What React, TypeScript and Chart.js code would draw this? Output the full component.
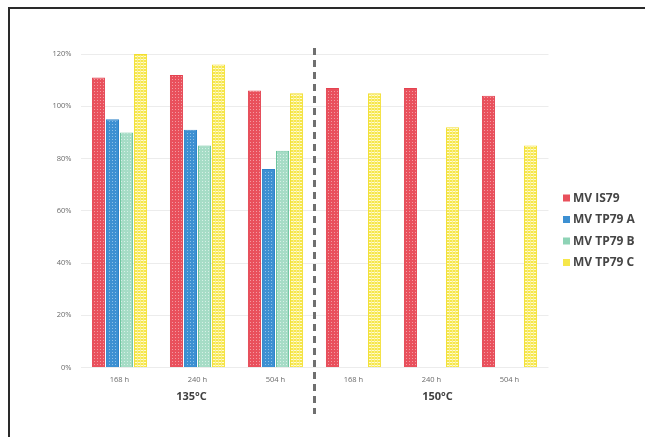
import React, { useEffect, useRef } from "react";
import { Chart, registerables } from "chart.js";

Chart.register(...registerables);

const categories = ["168 h", "240 h", "504 h", "168 h", "240 h", "504 h"];
const groupLabels = ["135°C", "150°C"];
const seriesNames = ["MV IS79", "MV TP79 A", "MV TP79 B", "MV TP79 C"];
const is79 = [111, 112, 106, 107, 107, 104];
const tp79A = [95, 91, 76, null, null, null];
const tp79B = [90, 85, 83, null, null, null];
const tp79C = [120, 116, 105, 105, 92, 85];
const yMax = 120;
const yStep = 20;

function makePattern(kind: string): CanvasPattern | string {
  const c = document.createElement("canvas");
  c.width = 3;
  c.height = 3;
  const g = c.getContext("2d");
  if (!g) return "#ccc";
  if (kind === "red") {
    g.fillStyle = "#E9505C";
    g.fillRect(0, 0, 3, 3);
    g.fillStyle = "#F39AA2";
    g.fillRect(1, 1, 1, 1);
  } else if (kind === "blue") {
    g.fillStyle = "#3D90D2";
    g.fillRect(0, 0, 3, 3);
    g.fillStyle = "#8CC0E8";
    g.fillRect(1, 1, 1, 1);
  } else if (kind === "green") {
    g.fillStyle = "#A6DCC6";
    g.fillRect(0, 0, 3, 3);
    g.fillStyle = "#D6F0E6";
    g.fillRect(1, 1, 1, 1);
  } else {
    g.fillStyle = "#FFFBD0";
    g.fillRect(0, 0, 3, 3);
    g.fillStyle = "#F6E74A";
    g.fillRect(0, 0, 3, 2);
    g.fillStyle = "#F9EE88";
    g.fillRect(2, 0, 1, 3);
  }
  const ctx = document.createElement("canvas").getContext("2d");
  return (ctx && ctx.createPattern(c, "repeat")) || "#ccc";
}

export default function App() {
  const ref = useRef<HTMLCanvasElement | null>(null);

  useEffect(() => {
    document.body.style.margin = "0";
    const canvas = ref.current;
    if (!canvas) return;

    const fills = [makePattern("red"), makePattern("blue"), makePattern("green"), makePattern("yellow")];
    const borders = ["#E4414F", "#2F84C9", "#6CC49E", "#F2DE2E"];
    const legendSolid = ["#E9505C", "#3D90D2", "#8ED3B6", "#F6E74A"];
    const values = [is79, tp79A, tp79B, tp79C];

    const overlay = {
      id: "overlay",
      afterDraw(chart: any) {
        const ctx = chart.ctx;
        const xs = chart.scales.x;
        const sepX = (xs.getPixelForTick(2) + xs.getPixelForTick(3)) / 2;
        ctx.save();
        ctx.strokeStyle = "#6f6f6f";
        ctx.lineWidth = 3;
        ctx.setLineDash([7, 5]);
        ctx.beginPath();
        ctx.moveTo(sepX, 48);
        ctx.lineTo(sepX, 414);
        ctx.stroke();
        ctx.setLineDash([]);
        ctx.fillStyle = "#404040";
        ctx.font = "bold 11px 'Open Sans'";
        ctx.textAlign = "center";
        ctx.textBaseline = "middle";
        ctx.fillText(groupLabels[0], xs.getPixelForTick(1) - 6, 397);
        ctx.fillText(groupLabels[1], xs.getPixelForTick(4) + 6, 397);
        const ys = [198, 219.5, 241, 262.5];
        ctx.textAlign = "left";
        ctx.font = "bold 12px 'Open Sans'";
        seriesNames.forEach((name, i) => {
          ctx.fillStyle = legendSolid[i];
          ctx.fillRect(563, ys[i] - 3.5, 7, 7);
          ctx.fillStyle = "#454545";
          ctx.fillText(name, 573, ys[i] + 0.5);
        });
        ctx.restore();
      },
    };

    const chart = new Chart(canvas, {
      type: "bar",
      data: {
        labels: categories,
        datasets: seriesNames.map((name, i) => ({
          label: name,
          data: values[i],
          backgroundColor: fills[i] as any,
          borderColor: borders[i],
          borderWidth: 1,
          categoryPercentage: 0.72,
          barPercentage: 0.93,
        })),
      },
      options: {
        responsive: false,
        animation: false,
        layout: { padding: { top: 54, right: 96.5, left: 0, bottom: 0 } },
        plugins: {
          legend: { display: false },
          tooltip: { enabled: false },
        },
        scales: {
          x: {
            grid: { display: false, drawTicks: false },
            border: { display: false },
            ticks: {
              color: "#6a6a6a",
              font: { family: "'Open Sans'", size: 7.5 },
              padding: 8,
              maxRotation: 0,
            },
            afterFit: (s: any) => {
              s.height = 69.5;
            },
          },
          y: {
            min: 0,
            max: yMax,
            ticks: {
              stepSize: yStep,
              color: "#6a6a6a",
              font: { family: "'Open Sans'", size: 7.5 },
              padding: 9,
              callback: (v: any) => v + "%",
            },
            grid: { color: "#ececec", drawTicks: false },
            border: { display: false },
            afterFit: (s: any) => {
              s.width = 80.5;
            },
          },
        },
      },
      plugins: [overlay],
    });

    return () => chart.destroy();
  }, []);

  return (
    <div style={{ position: "relative", width: 645, height: 437, background: "#fff" }}>
      <div
        style={{
          position: "absolute",
          left: 8,
          top: 7,
          width: 637,
          height: 430,
          borderLeft: "2px solid #2a2a2a",
          borderTop: "2px solid #2a2a2a",
          boxSizing: "border-box",
        }}
      />
      <canvas ref={ref} width={645} height={437} style={{ position: "absolute", left: 0, top: 0 }} />
    </div>
  );
}
